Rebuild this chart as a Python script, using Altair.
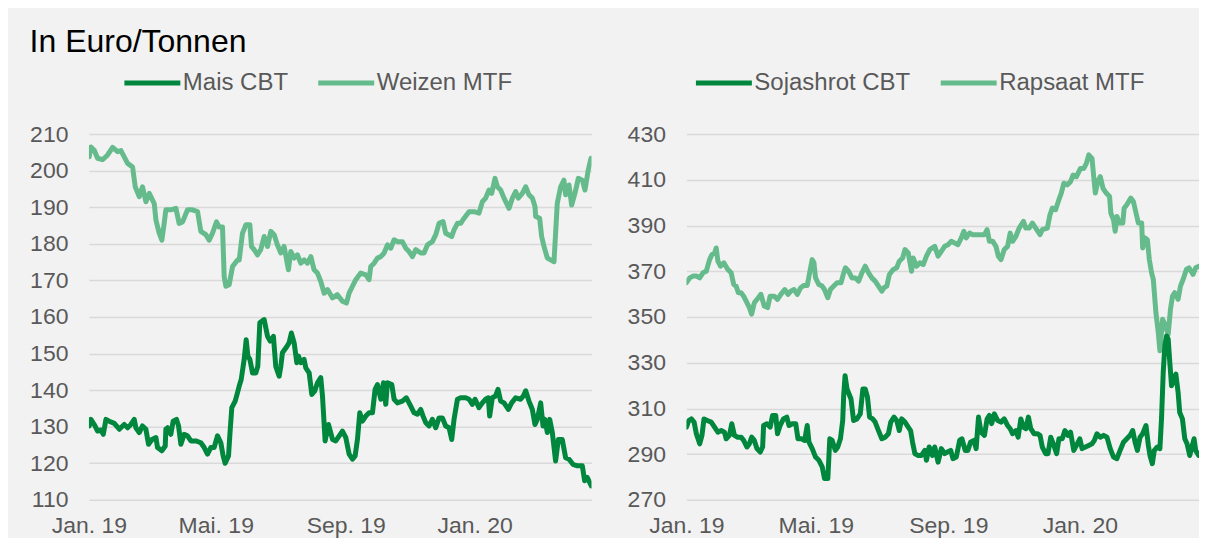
import altair as alt
import pandas as pd

# ---------------- data ----------------
# x values are day offsets from 1 Jan 2019
mais_days = [0.3, 1.9, 5.0, 8.2, 11.3, 13.6, 16.1, 19.2, 24.0, 28.7,
             33.4, 36.6, 39.7, 42.9, 44.4, 47.6, 50.7, 53.9, 56.4, 59.6,
             63.4, 64.9, 69.0, 72.2, 72.8, 74.4, 77.5, 79.7, 82.9, 84.8,
             87.0, 90.1, 93.3, 96.5, 101.2, 105.9, 109.1, 112.2, 115.4, 118.5,
             121.7, 124.8, 127.0, 128.9, 132.1, 133.3, 135.2, 138.4, 140.6, 142.2,
             144.1, 146.9, 148.8, 150.4, 152.3, 154.8, 157.9, 159.8, 161.7, 165.8,
             169.0, 171.5, 174.6, 176.8, 180.0, 181.6, 183.1, 186.3, 189.4, 191.6,
             194.2, 196.7, 198.3, 200.5, 203.6, 205.2, 208.4, 210.9, 213.7, 216.3,
             219.4, 221.0, 223.5, 226.7, 230.5, 233.6,
             239.9, 243.1, 246.2, 249.4, 251.9, 254.1, 256.3, 258.8, 262.0, 265.1,
             268.3, 270.8, 273.0, 276.2, 278.7, 280.9, 282.5, 286.6, 288.8, 291.9,
             296.6, 300.4, 304.5, 307.7, 310.8, 314.0, 316.2, 318.7, 321.9, 325.0,
             328.2, 331.3, 334.5, 337.6, 340.8, 343.3, 345.5, 348.7, 351.8, 356.5,
             359.7, 362.8, 365.4, 369.1, 372.3, 375.4, 377.9, 379.2, 381.7, 384.8,
             387.1, 389.6, 392.8, 396.9, 400.0, 403.8, 408.5, 411.1, 413.3, 416.4,
             419.6, 422.1, 424.3, 427.5, 429.7, 431.5, 433.8, 436.0, 438.5, 441.6,
             444.2, 447.9, 451.1, 454.3, 458.0, 462.1, 466.9, 469.1, 471.6, 475.4]
mais_vals = [130.2, 132.0, 130.6, 128.8, 129.1, 127.9, 132.0, 131.5, 130.9, 129.3,
             130.6, 129.7, 130.6, 132.0, 129.7, 128.4, 130.2, 129.3, 125.2, 126.5,
             127.0, 124.3, 123.4, 124.7, 129.3, 129.7, 127.9, 131.5, 132.0, 130.2,
             125.2, 127.9, 127.5, 126.1, 126.1, 125.6, 124.3, 122.5, 124.3, 124.3,
             127.5, 125.6, 122.0, 120.0, 122.0, 127.5, 135.2, 137.0, 139.3, 141.1,
             142.9, 148.4, 153.8, 149.3, 148.4, 144.7, 144.7, 146.5, 158.4, 159.3,
             154.7, 153.4, 154.7, 146.5, 143.8, 146.5, 150.2, 151.5, 152.9, 155.6,
             152.9, 147.5, 149.3, 147.5, 148.4, 146.1, 144.7, 138.8, 139.8, 142.0,
             143.4, 138.4, 126.1, 130.6, 126.5, 126.1,
             128.8, 127.0, 122.5, 121.1, 122.0, 126.5, 133.8, 131.5, 132.9, 133.8,
             133.8, 140.2, 141.5, 137.5, 142.0, 136.1, 142.0, 141.5, 137.5, 136.5,
             137.0, 137.9, 135.6, 133.8, 133.4, 134.7, 132.9, 131.1, 130.2, 132.0,
             129.7, 132.4, 132.4, 130.2, 129.7, 126.5, 132.0, 137.5, 137.9, 137.9,
             137.5, 136.1, 137.5, 135.2, 136.5, 137.5, 137.9, 132.9, 137.9, 138.4,
             140.2, 137.0, 136.5, 134.7, 136.5, 137.9, 137.5, 138.4, 139.8, 137.0,
             134.7, 130.6, 132.0, 136.5, 130.2, 132.0, 128.4, 132.0, 128.4, 120.6,
             126.5, 126.5, 121.5, 121.1, 119.7, 119.3, 119.3, 115.2, 116.1, 113.8]

weizen_days = [0.3, 1.9, 5.0, 8.2, 12.9, 17.7, 22.4, 27.1, 30.3, 33.4,
               36.6, 41.3, 43.8, 47.6, 50.7, 53.9, 57.1, 61.8, 63.4, 66.5,
               69.0, 71.2, 72.8, 77.5, 82.3, 85.4, 88.6, 93.3, 98.0, 102.8,
               105.9, 110.6, 113.8, 116.9, 120.7, 123.2, 126.4, 128.0, 129.6, 132.7,
               135.9, 140.6, 142.2, 145.3, 148.5, 152.3, 153.8, 156.3, 159.5, 162.6,
               165.8, 169.0, 172.1, 175.3, 178.4, 181.6, 184.7, 188.8, 191.0, 194.2,
               197.3, 200.5, 203.6, 206.8, 210.0, 213.1, 216.3, 219.4, 222.6, 225.8,
               230.5, 235.1,
               239.9, 243.7, 246.2, 249.4, 252.5, 257.2, 262.0, 265.1, 266.7, 269.9,
               273.0, 276.2, 279.3, 282.5, 285.6, 288.8, 291.9, 296.6, 299.8, 302.9,
               306.1, 309.3, 314.0, 317.1, 320.3, 325.0, 328.2, 331.3, 335.1, 337.6,
               343.3, 345.5, 348.7, 351.8, 355.0, 359.7, 364.4, 369.1, 372.3, 375.4,
               378.6, 381.1, 384.3, 386.5, 389.6, 392.8, 397.5, 400.7, 403.8, 406.3,
               410.1, 413.3, 416.4, 419.6, 422.1, 422.7, 426.5, 428.4, 430.6, 433.8,
               436.9, 440.1, 441.6, 443.2, 446.4, 449.5, 451.1, 454.3, 456.8, 459.9,
               463.1, 466.9, 469.4, 472.5, 475.1]
weizen_vals = [203.8, 206.5, 205.6, 203.4, 203.0, 204.3, 206.4, 205.2, 205.5, 203.8,
               202.0, 201.0, 195.6, 192.9, 195.6, 191.5, 193.8, 191.0, 186.5, 182.9,
               181.0, 185.6, 189.3, 189.3, 189.7, 185.6, 186.0, 189.3, 189.3, 188.8,
               183.4, 182.5, 181.0, 182.9, 186.0, 184.6, 184.6, 171.0, 168.4, 168.8,
               173.8, 175.6, 175.6, 182.9, 185.2, 185.2, 179.3, 178.4, 177.0, 178.4,
               182.0, 179.3, 183.4, 182.5, 179.7, 177.5, 179.3, 172.9, 177.9, 176.1,
               177.0, 174.7, 175.6, 174.7, 176.5, 172.9, 172.0, 169.7, 166.5, 167.5,
               165.2, 166.1,
               164.3, 163.8, 166.5, 168.4, 170.2, 172.0, 171.5, 170.2, 173.8, 174.7,
               176.1, 176.5, 177.5, 179.7, 178.8, 181.1, 180.6, 180.6, 178.8, 177.9,
               176.5, 178.4, 177.5, 177.5, 179.7, 180.6, 182.5, 185.6, 186.1, 182.9,
               182.0, 183.8, 185.6, 185.6, 187.0, 188.8, 188.8, 188.4, 191.5, 192.5,
               194.7, 193.8, 197.9, 195.6, 194.7, 192.5, 189.7, 192.5, 194.3, 192.5,
               193.8, 195.6, 193.4, 192.5, 190.2, 187.5, 187.0, 182.0, 179.3, 176.1,
               175.6, 175.1, 182.9, 191.1, 195.6, 197.4, 193.4, 196.1, 190.6, 193.8,
               197.9, 197.4, 194.7, 200.2, 203.4]

soja_days = [0.0, 2.2, 4.6, 7.1, 9.2, 12.3, 14.4, 16.3, 19.4, 23.0,
             26.1, 29.2, 32.3, 35.3, 36.9, 39.9, 42.1, 44.5, 47.6, 50.7,
             53.1, 56.2, 58.4, 60.5, 63.0, 65.4, 68.5, 70.7, 71.6, 74.7,
             77.7, 79.9, 82.9, 84.5, 86.9, 90.0, 93.1, 95.2, 98.3, 101.4,
             103.5, 106.6, 109.7, 112.1, 113.7, 116.7, 119.8, 122.9, 126.0, 128.1,
             131.2, 133.0, 135.2, 138.2, 140.4, 142.9, 145.0, 145.9, 147.2, 149.0,
             152.7, 155.1, 158.2, 161.3, 163.7, 165.9, 168.0, 169.9, 172.9, 175.1,
             178.2, 181.3, 184.3, 187.4, 189.6, 192.6, 195.1, 197.5, 199.7, 202.8,
             205.8, 208.0, 209.8, 212.0, 215.1, 218.1, 221.2, 222.7, 225.2, 228.3,
             230.4, 233.5,
             236.5, 239.6, 242.1, 245.2, 247.3, 250.4, 253.5, 255.6, 258.7, 261.1,
             263.6, 266.7, 268.8, 271.0, 273.4, 276.5, 279.0, 281.1, 283.2, 285.7,
             288.8, 291.9, 294.9, 298.0, 300.4, 302.6, 305.7, 307.8, 310.3, 312.7,
             314.9, 317.3, 319.5, 322.6, 325.6, 328.1, 330.2, 333.3, 335.5, 338.0,
             340.4, 343.5, 345.6, 348.7, 351.2, 354.0, 356.4, 359.4, 361.9, 365.0,
             367.1, 370.2, 373.2, 376.3, 378.5, 380.9, 384.0, 387.1, 390.2, 393.2,
             396.3, 399.4, 402.4, 405.5, 408.6, 411.7, 414.1, 416.3, 418.4, 420.9,
             423.3, 426.4, 428.6, 430.1, 432.3, 434.1, 436.9, 439.3, 440.8, 442.4,
             443.9, 445.5, 447.0, 448.5, 450.1, 452.2, 454.1, 456.2, 457.7, 460.2,
             462.4, 464.5, 467.0, 469.4, 471.0, 472.5, 475.3]
soja_vals = [301.8, 304.7, 305.4, 304.0, 298.9, 294.5, 298.2, 305.4, 304.7, 304.0,
             301.8, 299.6, 300.3, 299.6, 296.7, 298.2, 303.3, 298.2, 297.4, 297.4,
             296.0, 293.1, 294.5, 297.4, 296.0, 292.4, 290.9, 293.1, 302.5, 303.3,
             301.8, 306.9, 306.9, 298.9, 302.5, 305.4, 306.2, 302.5, 303.3, 303.3,
             296.7, 296.7, 296.0, 302.5, 295.2, 292.4, 288.7, 287.3, 284.4, 279.3,
             279.3, 296.7, 296.0, 291.6, 293.1, 296.7, 304.7, 315.6, 324.3, 318.5,
             314.1, 304.7, 305.4, 307.6, 318.5, 318.5, 314.9, 306.2, 305.4, 304.0,
             300.3, 296.7, 297.4, 298.9, 304.0, 306.2, 304.7, 300.3, 305.4, 304.0,
             301.8, 300.3, 295.2, 290.1, 289.4, 289.4, 291.6, 287.3, 293.1, 289.4,
             293.1, 286.5,
             292.4, 290.2, 290.9, 291.6, 288.0, 288.7, 296.0, 296.7, 291.6, 291.6,
             295.2, 296.0, 292.4, 306.2, 299.6, 298.2, 305.4, 306.9, 303.3, 307.6,
             304.7, 304.0, 305.4, 302.5, 301.1, 298.9, 300.3, 297.4, 305.4, 301.8,
             301.1, 306.2, 301.1, 298.9, 298.9, 298.2, 293.1, 290.2, 290.2, 297.4,
             294.5, 290.2, 296.7, 296.7, 300.3, 298.2, 299.6, 291.6, 293.8, 296.7,
             292.4, 293.1, 293.8, 294.5, 296.0, 298.9, 297.4, 298.2, 297.4, 292.4,
             288.7, 288.0, 291.6, 295.2, 296.7, 298.2, 300.3, 295.2, 291.6, 297.4,
             298.9, 302.5, 293.8, 289.4, 285.8, 291.6, 293.1, 292.4, 305.4, 325.8,
             337.4, 341.7, 340.3, 330.1, 319.9, 322.8, 325.0, 317.0, 308.2, 305.4,
             296.7, 294.5, 289.4, 293.8, 296.7, 291.6, 289.4]

raps_days = [0.0, 3.1, 6.1, 9.2, 12.3, 15.4, 18.4, 21.5, 23.7, 26.1,
             27.6, 29.2, 31.6, 34.7, 38.4, 41.5, 43.9, 46.1, 48.2, 50.7,
             53.1, 55.3, 58.4, 60.5, 63.0, 66.7, 69.1, 72.2, 75.3, 77.7,
             81.4, 84.5, 87.6, 91.2, 94.3, 96.8, 99.8, 102.9, 106.0, 109.1,
             112.1, 114.3, 116.7, 118.3, 119.8, 122.9, 125.9, 128.1, 131.2, 133.6,
             136.7, 139.8, 143.5, 145.9, 147.5, 150.5, 153.6, 156.7, 159.8, 162.8,
             165.9, 169.0, 172.0, 175.1, 178.2, 181.3, 183.4, 185.9, 188.3, 192.0,
             195.1, 197.5, 200.6, 202.8, 205.8, 208.9, 210.4, 213.5, 216.6, 219.7,
             222.7, 225.8, 230.4, 233.5,
             236.5, 239.6, 242.7, 245.8, 248.8, 251.9, 255.0, 257.4, 259.6, 262.7,
             265.7, 268.8, 271.9, 276.5, 279.0, 281.1, 284.2, 287.2, 289.4, 291.9,
             294.9, 298.0, 300.4, 302.6, 305.7, 308.7, 312.7, 314.9, 318.0, 321.0,
             324.1, 328.1, 330.2, 334.9, 337.3, 339.5, 342.5, 345.6, 347.8, 350.2,
             353.3, 356.4, 358.8, 361.9, 365.6, 368.7, 371.1, 373.3, 376.3, 377.9,
             379.4, 381.6, 384.0, 386.5, 389.5, 392.6, 393.8, 396.3, 397.8, 399.4,
             401.8, 404.9, 406.1, 408.6, 412.3, 414.7, 417.2, 419.3, 422.4, 423.3,
             425.5, 427.7, 429.5, 431.6, 433.2, 435.6, 437.8, 439.3, 441.8, 443.9,
             447.0, 449.1, 451.0, 453.1, 456.2, 458.4, 460.8, 463.9, 466.3, 470.0,
             472.5, 475.5]
raps_vals = [365.0, 367.1, 367.9, 367.9, 367.1, 369.3, 370.0, 375.1, 377.3, 378.0,
             380.2, 374.4, 372.2, 373.7, 370.8, 369.3, 364.2, 363.5, 360.6, 360.6,
             359.1, 357.0, 354.1, 351.2, 356.2, 358.4, 359.9, 354.8, 354.1, 359.1,
             359.1, 357.7, 359.9, 362.0, 359.9, 361.3, 362.0, 359.9, 362.8, 363.8,
             363.8, 369.3, 375.1, 373.7, 367.1, 364.2, 363.5, 362.0, 358.4, 362.0,
             363.5, 365.0, 365.0, 369.3, 371.5, 370.0, 367.1, 367.1, 365.7, 369.3,
             372.2, 369.3, 367.1, 365.7, 363.5, 361.3, 362.8, 363.5, 368.6, 370.8,
             371.5, 374.4, 375.8, 379.5, 378.0, 370.0, 375.8, 372.2, 373.7, 372.9,
             376.6, 379.5, 380.9, 376.6,
             378.7, 380.9, 381.6, 383.1, 382.4, 381.6, 384.6, 387.5, 384.6, 386.7,
             386.0, 386.0, 386.0, 386.0, 388.2, 383.1, 383.1, 380.9, 376.6, 375.1,
             379.5, 380.9, 386.7, 383.1, 385.3, 388.9, 391.8, 388.9, 388.9, 391.1,
             388.9, 386.0, 388.2, 388.9, 394.7, 397.6, 396.9, 401.3, 404.2, 408.5,
             407.8, 409.2, 412.1, 411.4, 415.0, 415.0, 417.2, 420.9, 419.4, 411.4,
             404.2, 409.2, 411.4, 406.3, 404.2, 402.7, 395.4, 392.5, 387.5, 394.0,
             391.1, 391.1, 397.6, 399.1, 402.0, 400.5, 395.4, 391.1, 391.1, 380.2,
             384.6, 383.8, 375.1, 369.3, 366.4, 351.9, 343.2, 335.2, 349.0, 346.8,
             342.4, 353.3, 359.1, 360.6, 357.7, 363.5, 366.4, 370.8, 371.5, 368.6,
             371.5, 372.2]

left_names = ["Mais CBT", "Weizen MTF"]
right_names = ["Sojashrot CBT", "Rapsaat MTF"]
left_ticks = [110, 120, 130, 140, 150, 160, 170, 180, 190, 200, 210]
right_ticks = [270, 290, 310, 330, 350, 370, 390, 410, 430]
month_ticks = [(2019, 1), (2019, 5), (2019, 9), (2020, 1)]
title_text = "In Euro/Tonnen"

# ---------------- styling ----------------
DARK = "#00873E"
LIGHT = "#66BB8C"
FONT = "Liberation Sans"
TXT = "#595959"
BG = "#F2F2F2"

BASE = pd.Timestamp("2019-01-01")


def to_frame(name, days, vals):
    ts = BASE + pd.to_timedelta(days, unit="D")
    return pd.DataFrame({"date": ts.strftime("%Y-%m-%dT%H:%M:%S"),
                         "value": vals, "series": name})


x_domain = [alt.DateTime(year=2019, month=1, date=1),
            alt.DateTime(year=2020, month=4, date=20, hours=14)]
x_values = [alt.DateTime(year=y, month=m, date=1) for y, m in month_ticks]
label_expr = ("(month(datum.value)==0 ? 'Jan.' : month(datum.value)==4 ? 'Mai.' : "
              "month(datum.value)==8 ? 'Sep.' : timeFormat(datum.value, '%b')) + ' ' + "
              "timeFormat(datum.value, '%y')")


def panel(names, frames, yticks, width, legend_x):
    df = pd.concat(frames, ignore_index=True)
    color = alt.Color(
        "series:N",
        scale=alt.Scale(domain=names, range=[DARK, LIGHT]),
        legend=alt.Legend(
            orient="none", legendX=legend_x, legendY=-82, direction="horizontal",
            title=None, symbolType="stroke", symbolSize=3136, symbolStrokeWidth=5,
            labelFontSize=24, labelFont=FONT, labelColor=TXT, labelOffset=0,
            columnPadding=19, labelLimit=400,
        ),
    )
    x = alt.X("date:T", scale=alt.Scale(domain=x_domain, nice=False),
              axis=alt.Axis(values=x_values, labelExpr=label_expr, title=None,
                            grid=False, domain=False, ticks=False, tickSize=0,
                            labelPadding=15, labelFontSize=23, labelFont=FONT,
                            labelColor=TXT, labelFlush=False, labelOverlap=False,
                            labelAngle=0))
    y = alt.Y("value:Q", scale=alt.Scale(domain=[yticks[0], yticks[-1]], nice=False, zero=False),
              axis=alt.Axis(values=yticks, title=None, grid=True, gridColor="#D9D9D9",
                            gridWidth=1.5, domain=False, ticks=False, tickSize=0,
                            labelPadding=21, labelFontSize=23, labelFont=FONT,
                            labelColor=TXT))
    base = alt.Chart(df).mark_line(strokeWidth=5, strokeCap="round",
                                   strokeJoin="round", clip=True).encode(x=x, y=y, color=color)
    light = base.transform_filter(alt.datum.series == names[1])
    dark = base.transform_filter(alt.datum.series == names[0])
    return alt.layer(light, dark).properties(width=width, height=366)


left = panel(left_names,
             [to_frame(left_names[0], mais_days, mais_vals),
              to_frame(left_names[1], weizen_days, weizen_vals)],
             left_ticks, 503, 33)
right = panel(right_names,
              [to_frame(right_names[0], soja_days, soja_vals),
               to_frame(right_names[1], raps_days, raps_vals)],
              right_ticks, 513, 7)

chart = (
    alt.hconcat(left, right, spacing=35)
    .resolve_scale(color="independent")
    .properties(
        title=alt.TitleParams(title_text, anchor="start", fontSize=32, font=FONT,
                              fontWeight="normal", color="#000000", offset=-7),
        padding={"left": 21, "top": 18, "right": 0, "bottom": 0},
        background=BG,
    )
    .configure_view(stroke=None)
)

chart.save("out.html", embed_options={"renderer": "svg", "actions": False})
